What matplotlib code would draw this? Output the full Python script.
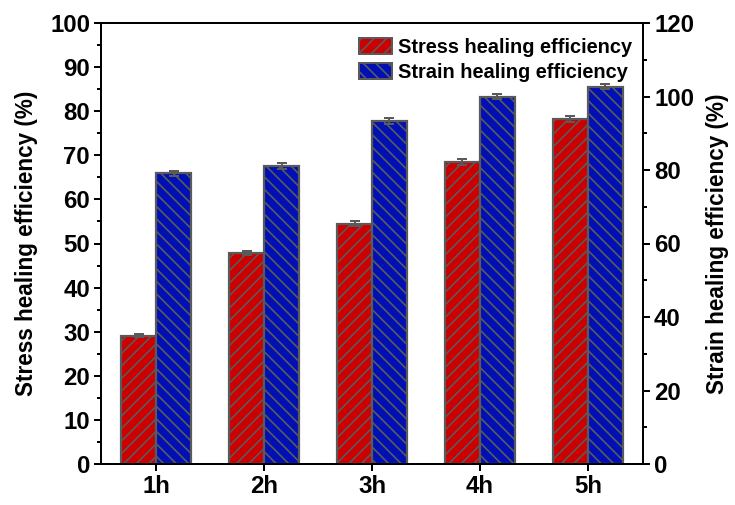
import matplotlib
matplotlib.use("Agg")
import matplotlib.pyplot as plt
import numpy as np
from matplotlib.ticker import MultipleLocator
from matplotlib.patches import Patch

categories = ["1h", "2h", "3h", "4h", "5h"]
stress = [29.1, 47.9, 54.5, 68.5, 78.3]
stress_err = [0.4, 0.4, 0.6, 0.7, 0.7]
strain = [79.1, 81.2, 93.4, 100.0, 102.7]
strain_err = [0.6, 0.8, 0.8, 0.8, 0.7]

DPI = 150
def px(p):
    return p * 72.0 / DPI

plt.rcParams['font.family'] = ['Liberation Sans', 'DejaVu Sans']
plt.rcParams['font.weight'] = 'bold'
plt.rcParams['hatch.linewidth'] = 0.8

red = '#CC0000'
blue = '#0010B4'
edge = '#5A5A5A'

fig = plt.figure(figsize=(735 / DPI, 505 / DPI), dpi=DPI)
ax = fig.add_axes([101 / 735, 41 / 505, 542 / 735, 441 / 505])
ax2 = ax.twinx()

x = np.arange(1, len(categories) + 1)
w = 0.324

ax.bar(x - w / 2, stress, w, color=red, edgecolor=edge, linewidth=px(2.2), hatch='////',
       yerr=stress_err, error_kw=dict(ecolor=edge, elinewidth=px(2), capsize=px(5), capthick=px(2)))
ax2.bar(x + w / 2, strain, w, color=blue, edgecolor=edge, linewidth=px(2.2), hatch='\\\\\\\\',
        yerr=strain_err, error_kw=dict(ecolor=edge, elinewidth=px(2), capsize=px(5), capthick=px(2)))

ax.set_xlim(0.49, 5.51)
ax.set_ylim(0, 100)
ax2.set_ylim(0, 120)
ax.set_xticks(x)
ax.set_xticklabels(categories)
ax.yaxis.set_major_locator(MultipleLocator(10))
ax.yaxis.set_minor_locator(MultipleLocator(5))
ax2.yaxis.set_major_locator(MultipleLocator(20))
ax2.yaxis.set_minor_locator(MultipleLocator(10))

fs = 11.5
fl = 10.8
for a in (ax, ax2):
    for s in a.spines.values():
        s.set_linewidth(px(2))
        s.set_color('black')
    a.tick_params(which='major', direction='out', length=px(7), width=px(2), labelsize=fs, pad=px(4))
    a.tick_params(which='minor', direction='out', length=px(4), width=px(2))
ax.tick_params(axis='x', which='minor', bottom=False)
ax.tick_params(axis='y', right=False)
for lab in ax.get_xticklabels() + ax.get_yticklabels() + ax2.get_yticklabels():
    lab.set_fontweight('bold')

ax.set_ylabel("Stress healing efficiency (%)", fontsize=fl, fontweight='bold', labelpad=px(12))
ax2.set_ylabel("Strain healing efficiency (%)", fontsize=fl, fontweight='bold', labelpad=px(12))

handles = [Patch(facecolor=red, edgecolor=edge, hatch='////', linewidth=px(2)),
           Patch(facecolor=blue, edgecolor=edge, hatch='\\\\\\\\', linewidth=px(2))]
ax2.legend(handles, ["Stress healing efficiency", "Strain healing efficiency"],
           loc='upper right', bbox_to_anchor=(1 + 4 / 542, 1), frameon=False,
           prop=dict(size=9.6, weight='bold'),
           handlelength=1.65, handleheight=0.8, handletextpad=0.3, labelspacing=0.3,
           borderaxespad=0.55, borderpad=0.2)

fig.savefig("out.png", dpi=DPI)
